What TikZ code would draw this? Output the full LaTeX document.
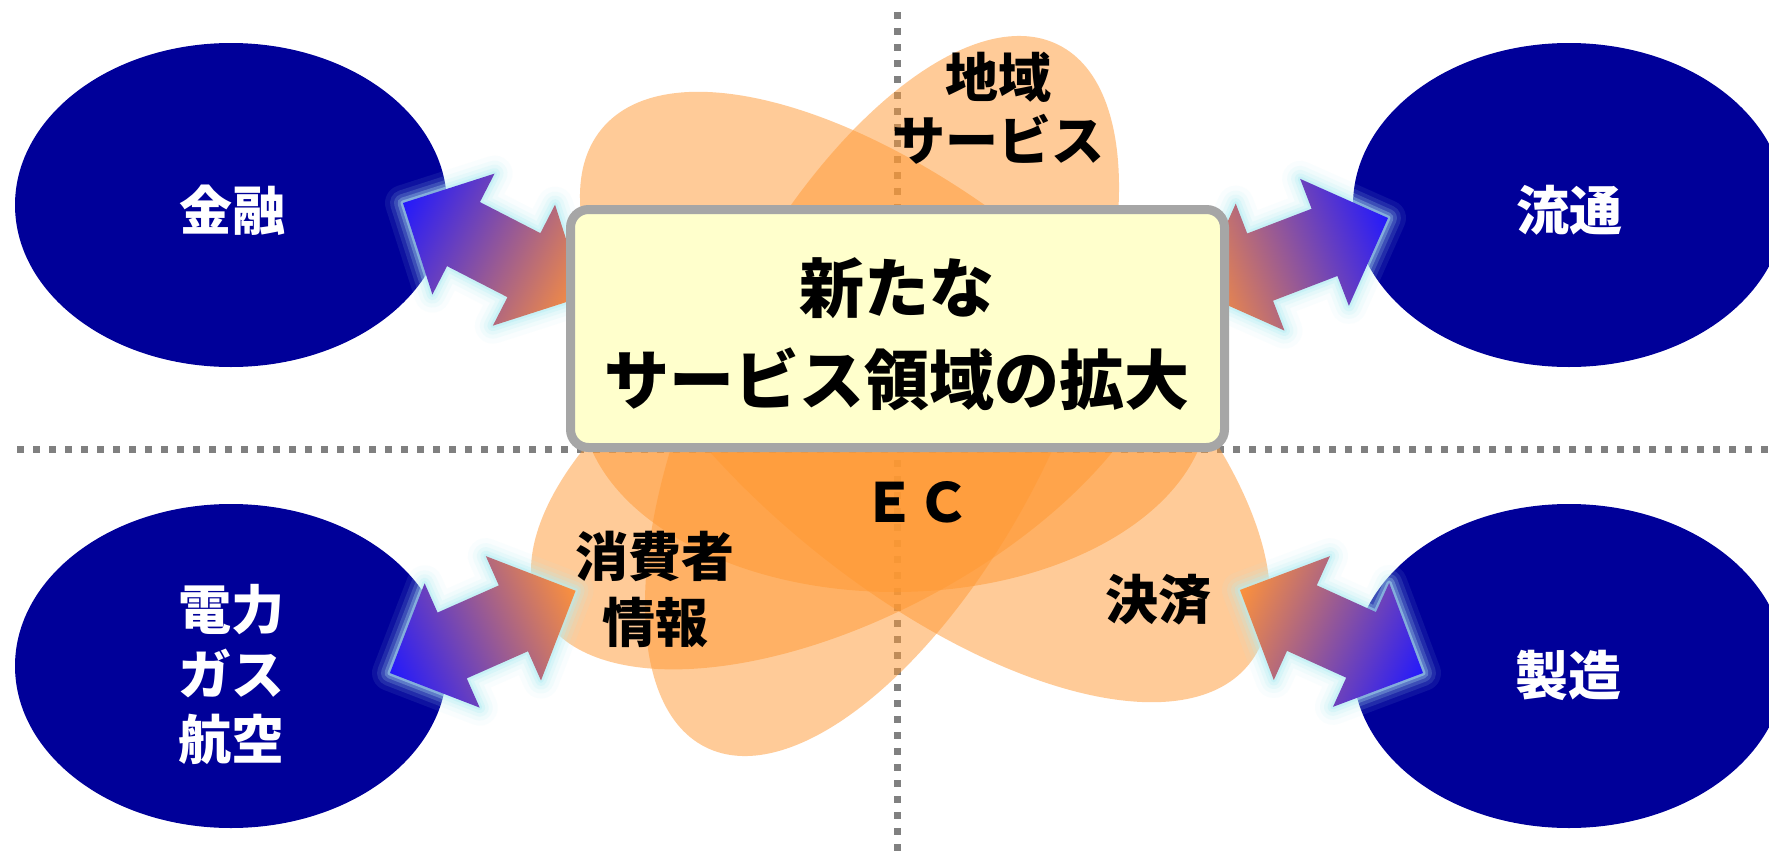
\documentclass[tikz,border=0pt]{standalone}
\usepackage{fontspec}
\newfontfamily\jp{Noto Sans CJK JP}
\usetikzlibrary{shapes.geometric}
\definecolor{navy}{RGB}{0,0,153}
\definecolor{petal}{RGB}{255,153,51}
\definecolor{boxfill}{RGB}{255,255,204}
\definecolor{boxline}{RGB}{166,166,166}
\definecolor{dotgray}{RGB}{128,128,128}
\definecolor{arrblue}{RGB}{35,25,252}
\definecolor{arrmid}{RGB}{165,85,205}
\definecolor{arrorange}{RGB}{252,145,60}
\definecolor{glowc}{RGB}{180,238,245}
% double block arrow along local x axis, length #1
\newcommand{\dapath}[1]{(0,0) -- (68,68) -- (68,36) -- ({#1-68},36) -- ({#1-68},68) -- (#1,0) -- ({#1-68},-68) -- ({#1-68},-36) -- (68,-36) -- (68,-68) -- cycle}
% #1 coordinate of blue tip, #2 canvas angle, #3 length
\newcommand{\blockarrow}[3]{%
  \begin{scope}[transform canvas={shift={(#1)},rotate=#2}]
    \foreach \w/\o in {18/0.08, 13/0.12, 9/0.18, 5.5/0.28, 2.5/0.45}
      \draw[glowc, line width=\w pt, opacity=\o, line join=round] \dapath{#3};
    \shade[left color=arrblue, middle color=arrmid, right color=arrorange] \dapath{#3};
  \end{scope}}
\begin{document}
\begin{tikzpicture}[x=0.5pt,y=-0.5pt,
  dotline/.style={draw=dotgray, line width=3.5pt, dash pattern=on 3.5pt off 4.5pt},
  petalsty/.style={fill=petal, fill opacity=0.5},
  ellsty/.style={ellipse, fill=navy, minimum width=216pt, minimum height=162pt, inner sep=0pt},
  wlbl/.style={text=white, font=\jp\bfseries\fontsize{26.5}{32.5}\selectfont, align=center, inner sep=0pt},
  blbl/.style={text=black, font=\jp\bfseries\fontsize{26.5}{32}\selectfont, align=center, inner sep=0pt}]
\useasboundingbox (0,0) rectangle (1769,852);
\clip (0,0) rectangle (1769,852);
\fill[white] (0,0) rectangle (1769,852);

% dotted axes
\coordinate (vtop) at (897,12);
\coordinate (vbot) at (897,852);
\coordinate (hl) at (17,449);
\coordinate (hr) at (1769,449);
\draw[dotline] (vtop) -- (vbot);
\draw[dotline] (hl) -- (hr);

% petals
\fill[petalsty] (895,400) ellipse [x radius=314, y radius=192];
\fill[petalsty, rotate around={28:(850,448)}] (850,448) ellipse [x radius=350, y radius=168];
\fill[petalsty, rotate around={-39.7:(925,397)}] (925,397) ellipse [x radius=420, y radius=189];
\fill[petalsty, rotate around={63.3:(882,396)}] (882,396) ellipse [x radius=393, y radius=177];

% outer ellipses
\node[ellsty] (kinyu) at (231,205) {};
\node[ellsty] (denryoku) at (231,666) {};
\node[ellsty] (ryutsu) at (1569,205) {};
\node[ellsty] (seizo) at (1569,666) {};

% arrows
\coordinate (tlb) at (403,203);
\coordinate (blb) at (390,673);
\coordinate (trb) at (1388,218);
\coordinate (brb) at (1423,673);
\blockarrow{tlb}{-27.2}{204}
\blockarrow{blb}{23.9}{203}
\blockarrow{trb}{201}{205}
\blockarrow{brb}{155.6}{201}

% centre box
\node[draw=boxline, line width=4.5pt, fill=boxfill, rounded corners=9pt,
      minimum width=327pt, minimum height=119pt, inner sep=0pt] (box) at (897.5,328.5) {};
\node[text=black, font=\jp\bfseries\fontsize{32.5}{46}\selectfont, align=center, inner sep=0pt]
  (title) at (897,334) {新たな\\サービス領域の拡大};

% labels
\node[wlbl] (t1) at (232,210) {金融};
\node[wlbl] (t2) at (1569,210) {流通};
\node[wlbl] (t3) at (231,674) {電力\\ガス\\航空};
\node[wlbl] (t4) at (1568,675) {製造};
\node[blbl, font=\jp\bfseries\fontsize{26.5}{31.5}\selectfont] (p1) at (998,108) {地域\\サービス};
\node[blbl, font=\jp\bfseries\fontsize{26.5}{33}\selectfont] (p2) at (655,589) {消費者\\情報};
\node[blbl] (p3) at (1158,600) {決済};
\node[blbl, font=\jp\bfseries\fontsize{27}{32}\selectfont] (p4) at (916,502) {ＥＣ};
\end{tikzpicture}
\end{document}
